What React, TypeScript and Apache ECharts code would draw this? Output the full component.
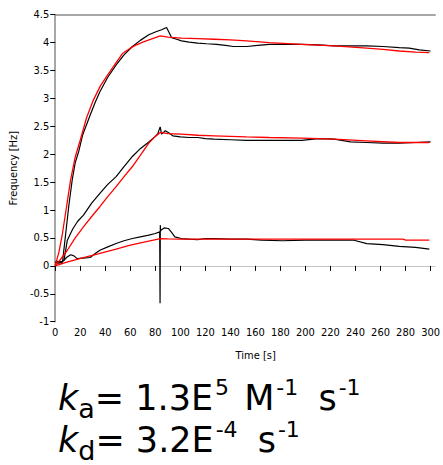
import React, { useEffect, useRef } from "react";
import * as echarts from "echarts";

// Time [s] / Frequency [Hz] pairs
const blackHighT = [0, 2, 4, 5, 6, 8.4, 11, 13.6, 16, 18.8, 22, 27.9, 32, 35.7, 42, 48.7, 55, 61.7, 68, 74.8, 80, 85, 89, 91, 93, 97, 101, 107, 114, 121, 129, 136, 142.5, 153, 162, 171, 184, 197, 210, 223, 236, 249, 262, 275, 283, 291, 300];
const blackHighY = [0.07, 0.05, 0.08, 0.04, 0.1, 0.58, 1.1, 1.54, 1.85, 2.05, 2.35, 2.7, 2.93, 3.12, 3.38, 3.6, 3.78, 3.93, 4.04, 4.14, 4.19, 4.23, 4.27, 4.18, 4.09, 4.06, 4.03, 4.01, 3.99, 3.98, 3.97, 3.95, 3.93, 3.93, 3.95, 3.97, 3.97, 3.97, 3.96, 3.94, 3.94, 3.94, 3.93, 3.91, 3.9, 3.87, 3.85];

const redHighT = [0, 3, 5.8, 9, 12.3, 16, 20, 25, 30.5, 36, 41, 48, 54, 60, 64, 70, 75, 80, 84, 90, 101, 114, 127, 140, 153, 171, 197, 223, 249, 262, 275, 288, 299];
const redHighY = [0, 0.25, 0.58, 1.05, 1.54, 1.95, 2.25, 2.65, 2.97, 3.22, 3.39, 3.62, 3.81, 3.9, 3.95, 4.01, 4.05, 4.09, 4.12, 4.1, 4.08, 4.07, 4.06, 4.05, 4.03, 4.0, 3.97, 3.94, 3.9, 3.88, 3.85, 3.83, 3.82];

const blackMidT = [0, 3, 5, 7, 9.7, 14, 18, 22.6, 29, 35.7, 42, 48.7, 55, 61.7, 68, 74.8, 80, 82, 83.9, 85, 88, 91, 94, 100, 107, 114, 120, 127, 140, 153, 171, 184, 197, 210, 223, 236, 249, 262, 275, 288, 300];
const blackMidY = [0.07, 0.05, 0.06, 0.1, 0.46, 0.66, 0.8, 0.91, 1.12, 1.3, 1.46, 1.6, 1.78, 1.96, 2.1, 2.22, 2.32, 2.37, 2.49, 2.36, 2.42, 2.38, 2.33, 2.31, 2.3, 2.3, 2.28, 2.27, 2.26, 2.25, 2.25, 2.25, 2.25, 2.28, 2.27, 2.22, 2.21, 2.2, 2.2, 2.21, 2.22];

const redMidT = [0, 3, 9.7, 16, 22.6, 29, 35.7, 42, 48.7, 55, 61.7, 68, 74.8, 80, 84, 90, 101, 114, 127, 140, 153, 171, 197, 223, 249, 275, 299];
const redMidY = [0, 0.08, 0.28, 0.5, 0.7, 0.88, 1.06, 1.24, 1.42, 1.6, 1.78, 1.98, 2.2, 2.32, 2.39, 2.37, 2.36, 2.34, 2.33, 2.32, 2.31, 2.3, 2.29, 2.27, 2.24, 2.21, 2.21];

const blackLowT = [0, 2, 4.5, 7, 9, 12.3, 15, 17.5, 22, 27.9, 32, 35.7, 42, 48.7, 55, 61.7, 68, 74.8, 80, 83.5, 83.8, 84, 84.2, 84.5, 87, 90.4, 93, 95.6, 100.8, 107, 113.8, 120, 127, 140, 153, 165, 181.5, 200, 220, 238.8, 249, 262, 275, 288, 299];
const blackLowY = [0.05, 0.08, 0.07, 0.1, 0.15, 0.2, 0.18, 0.13, 0.14, 0.15, 0.22, 0.28, 0.34, 0.4, 0.45, 0.49, 0.52, 0.55, 0.58, 0.61, -0.67, 0.73, 0.62, 0.64, 0.68, 0.67, 0.6, 0.52, 0.49, 0.48, 0.47, 0.49, 0.49, 0.48, 0.48, 0.46, 0.45, 0.46, 0.46, 0.46, 0.4, 0.38, 0.35, 0.33, 0.3];

const redLowT = [0, 10, 22.6, 35, 48.7, 60, 72, 84, 90, 100, 120, 140, 160, 180, 200, 220, 240, 260, 278, 280, 299];
const redLowY = [0, 0.07, 0.15, 0.22, 0.3, 0.37, 0.43, 0.49, 0.485, 0.48, 0.48, 0.48, 0.48, 0.48, 0.48, 0.48, 0.48, 0.48, 0.48, 0.46, 0.46];

const yTickLabels = ["-1", "-0.5", "0", "0.5", "1", "1.5", "2", "2.5", "3", "3.5", "4", "4.5"];
const xTickLabels = ["0", "20", "40", "60", "80", "100", "120", "140", "160", "180", "200", "220", "240", "260", "280", "300"];

const pairs = (t: number[], y: number[]) => t.map((v, i) => [v, y[i]]);

const tickFont = "'Liberation Sans Narrow', 'Arial Narrow', 'DejaVu Sans Condensed', sans-serif";
const mathFont = "'DejaVu Sans', Verdana, sans-serif";

export default function App() {
  const ref = useRef<HTMLDivElement>(null);
  useEffect(() => {
    if (!ref.current) return;
    const chart = echarts.init(ref.current, undefined, { renderer: "svg" });
    const line = (name: string, data: number[][], color: string, width: number) => ({
      name,
      type: "line",
      data,
      showSymbol: false,
      symbol: "none",
      lineStyle: { color, width },
      z: color === "#ff0000" ? 3 : 2,
    });
    const rich = {
      n: { fontSize: 35, fontFamily: mathFont, color: "#000", verticalAlign: "top", padding: [4, 0, 0, 0] },
      spM: { fontSize: 35, fontFamily: mathFont, color: "#000", verticalAlign: "top", padding: [4, 0, 0, 3] },
      spS: { fontSize: 35, fontFamily: mathFont, color: "#000", verticalAlign: "top", padding: [4, 0, 0, 8] },
      k: { fontSize: 35, fontFamily: mathFont, fontStyle: "italic", color: "#000", verticalAlign: "top", padding: [4, 0, 0, 0] },
      sub: { fontSize: 27, fontFamily: mathFont, color: "#000", verticalAlign: "top", padding: [19, 0, 0, 0] },
      sup: { fontSize: 22, fontFamily: mathFont, color: "#000", verticalAlign: "top", padding: [0, 1, 0, 2] },
    };
    chart.setOption({
      animation: false,
      backgroundColor: "#ffffff",
      grid: { left: 54.3, right: 0, top: 14.7, bottom: 143.3, show: false },
      xAxis: [
        {
          type: "value",
          min: 0,
          max: 303.7,
          interval: 20,
          name: "Time [s]",
          nameLocation: "middle",
          nameGap: 28,
          nameTextStyle: { fontFamily: tickFont, fontSize: 11, color: "#000", padding: [0, 0, 0, 21] },
          axisLine: { show: true, lineStyle: { color: "#c4c4c4", width: 1 } },
          axisTick: { show: true, length: 5, lineStyle: { color: "#000" } },
          axisLabel: {
            fontFamily: tickFont,
            fontSize: 11,
            color: "#000",
            margin: 5,
            showMaxLabel: false,
            formatter: (v: number) => (v % 20 === 0 ? xTickLabels[v / 20] ?? "" : ""),
          },
          splitLine: { show: false },
        },
        {
          type: "value",
          position: "top",
          min: 0,
          max: 303.7,
          interval: 20,
          axisLine: { show: true, lineStyle: { color: "#8a8a8a", width: 1.5 } },
          axisTick: { show: false },
          axisLabel: { show: false },
          splitLine: { show: false },
        },
      ],
      yAxis: {
        type: "value",
        min: -1,
        max: 4.5,
        interval: 0.5,
        name: "Frequency [Hz]",
        nameLocation: "middle",
        nameGap: 30,
        nameTextStyle: { fontFamily: tickFont, fontSize: 11, color: "#000" },
        axisLine: { show: true, lineStyle: { color: "#8a8a8a", width: 1.5 } },
        axisTick: { show: true, length: 5, lineStyle: { color: "#000" } },
        axisLabel: {
          fontFamily: tickFont,
          fontSize: 11,
          color: "#000",
          margin: 6,
          formatter: (v: number) => yTickLabels[Math.round((v + 1) * 2)] ?? String(v),
        },
        splitLine: { show: false },
      },
      series: [
        line("black high", pairs(blackHighT, blackHighY), "#000000", 1.2),
        line("black mid", pairs(blackMidT, blackMidY), "#000000", 1.2),
        line("black low", pairs(blackLowT, blackLowY), "#000000", 1.2),
        line("fit high", pairs(redHighT, redHighY), "#ff0000", 1.3),
        line("fit mid", pairs(redMidT, redMidY), "#ff0000", 1.3),
        line("fit low", pairs(redLowT, redLowY), "#ff0000", 1.3),
      ],
      graphic: [
        {
          type: "text",
          left: 58,
          top: 376,
          style: {
            text: "{k|k}{sub|a}{n|= 1.3E}{sup|5}{spM| M}{sup|-1}{spS| s}{sup|-1}",
            rich,
          },
        },
        {
          type: "text",
          left: 58,
          top: 418,
          style: {
            text: "{k|k}{sub|d}{n|= 3.2E}{sup|-4}{spS| s}{sup|-1}",
            rich,
          },
        },
      ],
    });
    return () => chart.dispose();
  }, []);
  return <div ref={ref} style={{ position: "fixed", left: 0, top: 0, width: 443, height: 465 }} />;
}
